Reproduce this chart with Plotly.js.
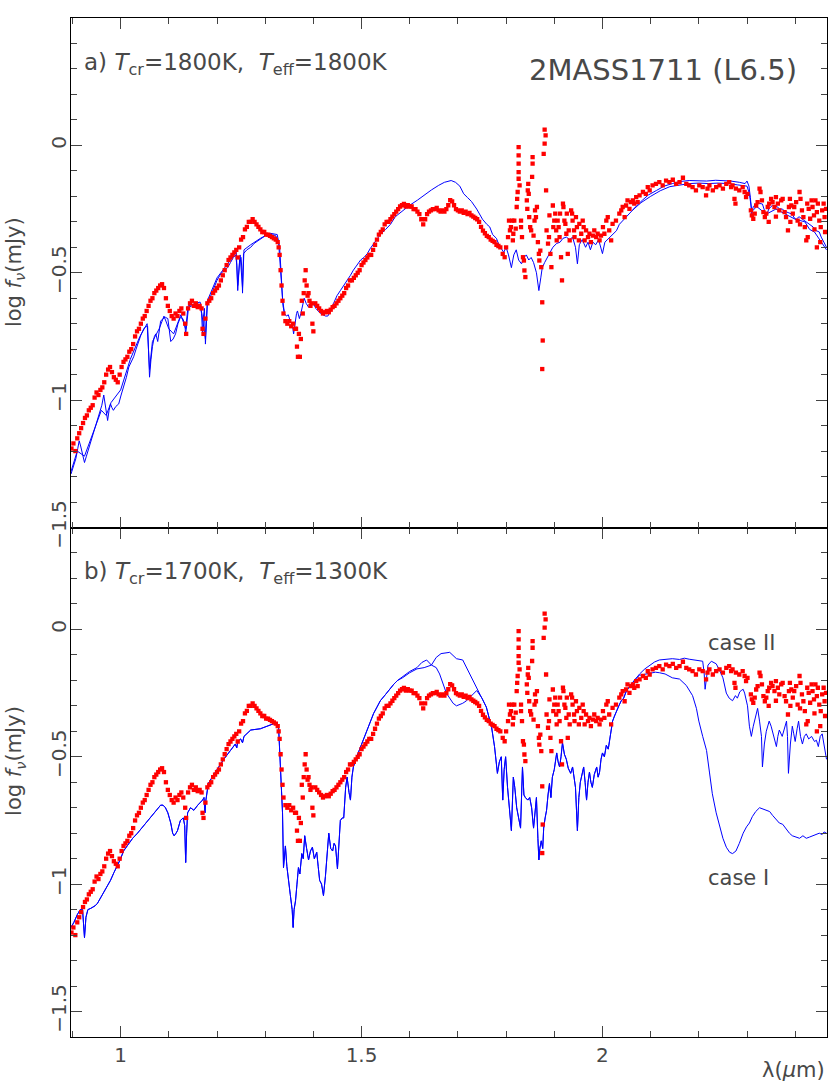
<!DOCTYPE html>
<html>
<head>
<meta charset="utf-8">
<script src="https://cdn.plot.ly/plotly-3.0.1.min.js"></script>
<style>
html,body{margin:0;padding:0;background:#fff;}
#chart{width:830px;height:1083px;}
</style>
</head>
<body>
<div id="chart"></div>
<script>
// ---------- DATA (wavelength in micron, log f_nu in mJy) ----------
// observed spectrum of 2MASS1711 (same in both panels)
const observed = [
[0.898,-1.19],[0.902,-1.17],[0.906,-1.20],[0.910,-1.15],[0.914,-1.13],[0.918,-1.11],[0.922,-1.09],[0.926,-1.07],
[0.930,-1.06],[0.934,-1.04],[0.938,-1.03],[0.942,-1.02],[0.946,-0.99],[0.950,-0.97],[0.954,-0.98],[0.958,-0.96],
[0.962,-0.95],[0.966,-0.93],[0.970,-0.90],[0.974,-0.88],[0.978,-0.87],[0.982,-0.89],[0.986,-0.91],[0.990,-0.92],
[0.994,-0.93],[0.998,-0.90],[1.002,-0.87],[1.006,-0.85],[1.010,-0.84],[1.014,-0.83],[1.018,-0.81],[1.022,-0.80],
[1.026,-0.78],[1.030,-0.75],[1.034,-0.73],[1.038,-0.72],[1.042,-0.70],[1.046,-0.68],[1.050,-0.67],[1.054,-0.65],
[1.058,-0.63],[1.062,-0.61],[1.066,-0.60],[1.070,-0.58],[1.074,-0.57],[1.078,-0.56],[1.082,-0.55],[1.086,-0.545],
[1.090,-0.56],[1.094,-0.60],[1.098,-0.63],[1.102,-0.65],[1.106,-0.67],[1.110,-0.68],[1.114,-0.66],[1.118,-0.67],
[1.122,-0.65],[1.126,-0.64],[1.130,-0.66],[1.134,-0.70],[1.136,-0.74],[1.140,-0.64],[1.144,-0.62],[1.148,-0.61],
[1.152,-0.63],[1.156,-0.62],[1.160,-0.635],[1.164,-0.63],[1.168,-0.64],[1.170,-0.72],[1.172,-0.74],[1.176,-0.68],
[1.180,-0.62],[1.184,-0.61],[1.188,-0.60],[1.192,-0.58],[1.196,-0.57],[1.200,-0.56],[1.204,-0.55],[1.208,-0.53],
[1.212,-0.51],[1.216,-0.49],[1.220,-0.47],[1.224,-0.45],[1.228,-0.44],[1.232,-0.43],[1.236,-0.42],[1.240,-0.41],
[1.243,-0.44],[1.246,-0.40],[1.250,-0.37],[1.254,-0.36],[1.258,-0.33],[1.262,-0.32],[1.266,-0.30],[1.270,-0.30],
[1.274,-0.29],[1.278,-0.30],[1.282,-0.31],[1.286,-0.32],[1.290,-0.33],[1.294,-0.34],[1.298,-0.34],[1.302,-0.35],
[1.306,-0.35],[1.310,-0.355],[1.314,-0.36],[1.318,-0.365],[1.322,-0.37],[1.326,-0.38],[1.328,-0.40],[1.330,-0.43],
[1.332,-0.49],[1.334,-0.55],[1.336,-0.61],[1.338,-0.66],[1.342,-0.69],[1.346,-0.70],[1.350,-0.69],[1.354,-0.71],
[1.358,-0.70],[1.362,-0.72],[1.364,-0.72],[1.366,-0.79],[1.368,-0.83],[1.370,-0.74],[1.372,-0.83],[1.374,-0.76],
[1.376,-0.61],[1.378,-0.66],[1.380,-0.58],[1.382,-0.53],[1.384,-0.49],[1.386,-0.55],[1.388,-0.59],[1.390,-0.58],
[1.392,-0.61],[1.394,-0.63],[1.396,-0.62],[1.398,-0.70],[1.400,-0.73],[1.404,-0.62],[1.408,-0.63],[1.412,-0.64],
[1.416,-0.65],[1.420,-0.66],[1.424,-0.655],[1.428,-0.65],[1.432,-0.655],[1.436,-0.645],[1.440,-0.635],[1.444,-0.63],
[1.448,-0.62],[1.452,-0.61],[1.456,-0.60],[1.460,-0.59],[1.464,-0.58],[1.468,-0.56],[1.472,-0.55],[1.476,-0.53],
[1.480,-0.53],[1.484,-0.52],[1.488,-0.51],[1.492,-0.50],[1.496,-0.49],[1.500,-0.47],[1.504,-0.46],[1.508,-0.45],
[1.512,-0.44],[1.516,-0.43],[1.520,-0.43],[1.524,-0.41],[1.528,-0.39],[1.532,-0.37],[1.536,-0.35],[1.540,-0.34],
[1.544,-0.33],[1.548,-0.31],[1.552,-0.30],[1.556,-0.30],[1.560,-0.29],[1.564,-0.28],[1.568,-0.27],[1.572,-0.26],
[1.576,-0.25],[1.580,-0.24],[1.584,-0.235],[1.588,-0.23],[1.592,-0.24],[1.596,-0.235],[1.600,-0.24],[1.604,-0.24],
[1.608,-0.25],[1.612,-0.25],[1.616,-0.26],[1.620,-0.27],[1.624,-0.29],[1.628,-0.31],[1.632,-0.29],[1.636,-0.27],
[1.640,-0.26],[1.644,-0.255],[1.648,-0.25],[1.652,-0.25],[1.656,-0.245],[1.660,-0.255],[1.664,-0.26],[1.668,-0.255],
[1.672,-0.26],[1.676,-0.25],[1.680,-0.235],[1.684,-0.215],[1.688,-0.22],[1.692,-0.235],[1.696,-0.25],[1.700,-0.255],
[1.704,-0.26],[1.708,-0.255],[1.712,-0.265],[1.716,-0.26],[1.720,-0.27],[1.724,-0.265],[1.728,-0.275],[1.732,-0.28],
[1.736,-0.285],[1.740,-0.29],[1.744,-0.30],[1.748,-0.32],[1.752,-0.335],[1.756,-0.345],[1.760,-0.355],[1.764,-0.36],
[1.768,-0.37],[1.772,-0.375],[1.776,-0.38],[1.780,-0.39],[1.784,-0.395],[1.788,-0.40],
[1.793,-0.426],[1.797,-0.439],[1.800,-0.40],[1.804,-0.36],[1.806,-0.295],[1.808,-0.334],[1.810,-0.321],[1.813,-0.295],
[1.814,-0.373],[1.815,-0.347],[1.817,-0.295],[1.820,-0.327],[1.822,-0.242],[1.823,-0.21],[1.824,-0.183],[1.826,-0.131],
[1.826,-0.105],[1.826,-0.072],[1.826,-0.039],[1.826,-0.007],[1.828,-0.157],[1.831,-0.295],[1.831,-0.321],[1.833,-0.36],
[1.835,-0.439],[1.837,-0.452],[1.838,-0.491],[1.840,-0.517],[1.843,-0.216],[1.844,-0.249],[1.845,-0.177],[1.846,-0.151],
[1.847,-0.19],[1.848,-0.282],[1.850,-0.321],[1.852,-0.334],[1.854,-0.124],[1.855,-0.072],[1.855,-0.046],[1.857,-0.354],
[1.859,-0.295],[1.860,-0.255],[1.862,-0.282],[1.864,-0.242],[1.866,-0.38],[1.868,-0.426],[1.869,-0.452],[1.871,-0.413],
[1.873,-0.478],[1.875,-0.616],[1.876,-0.766],[1.875,-0.878],[1.878,-0.033],[1.880,0.007],[1.882,0.039],[1.880,0.062],
[1.883,-0.177],[1.884,-0.334],[1.887,-0.386],[1.889,-0.36],[1.890,-0.275],[1.892,-0.426],[1.894,-0.478],[1.897,-0.236],
[1.898,-0.321],[1.900,-0.295],[1.902,-0.268],[1.904,-0.334],[1.905,-0.373],[1.907,-0.295],[1.909,-0.321],[1.911,-0.36],
[1.912,-0.268],[1.914,-0.439],[1.916,-0.53],[1.918,-0.229],[1.919,-0.242],[1.921,-0.295],[1.923,-0.308],[1.925,-0.347],
[1.926,-0.268],[1.928,-0.426],[1.930,-0.334],[1.932,-0.373],[1.935,-0.255],[1.937,-0.268],[1.938,-0.295],[1.941,-0.334],
[1.942,-0.36],[1.945,-0.282],[1.947,-0.321],[1.951,-0.373],[1.952,-0.308],[1.956,-0.347],[1.959,-0.295],[1.961,-0.321],
[1.963,-0.373],[1.966,-0.334],[1.970,-0.36],[1.973,-0.347],[1.976,-0.38],[1.980,-0.354],[1.983,-0.334],[1.987,-0.36],
[1.990,-0.347],[1.994,-0.373],[1.997,-0.354],[2.001,-0.321],[2.004,-0.347],[2.008,-0.295],[2.011,-0.282],[2.014,-0.334],
[2.018,-0.373],[2.021,-0.308],[2.028,-0.295],[2.035,-0.268],[2.039,-0.255],[2.042,-0.242],[2.046,-0.282],[2.049,-0.236],
[2.052,-0.216],[2.056,-0.249],[2.059,-0.223],[2.063,-0.216],[2.066,-0.229],[2.070,-0.203],[2.073,-0.223],[2.077,-0.196],
[2.084,-0.183],[2.090,-0.19],[2.094,-0.164],[2.098,-0.177],[2.104,-0.157],[2.111,-0.151],[2.118,-0.144],[2.125,-0.157],
[2.132,-0.138],[2.139,-0.144],[2.146,-0.135],[2.153,-0.151],[2.160,-0.144],[2.167,-0.127],[2.174,-0.151],[2.180,-0.157],
[2.187,-0.164],[2.194,-0.177],[2.201,-0.157],[2.208,-0.164],[2.215,-0.196],[2.218,-0.17],[2.222,-0.157],[2.229,-0.177],
[2.236,-0.164],[2.243,-0.157],[2.250,-0.17],[2.257,-0.151],[2.263,-0.144],[2.267,-0.164],[2.270,-0.157],[2.274,-0.21],
[2.276,-0.229],[2.277,-0.17],[2.284,-0.177],[2.291,-0.164],[2.295,-0.183],[2.298,-0.203],[2.301,-0.19],
[2.308,-0.255],[2.310,-0.275],[2.313,-0.288],[2.316,-0.268],[2.319,-0.236],[2.322,-0.223],[2.326,-0.17],[2.328,-0.183],
[2.331,-0.216],[2.334,-0.262],[2.337,-0.282],[2.340,-0.268],[2.343,-0.242],[2.345,-0.30],[2.346,-0.229],[2.350,-0.21],
[2.353,-0.223],[2.357,-0.242],[2.360,-0.203],[2.360,-0.28],[2.364,-0.229],[2.367,-0.255],[2.371,-0.216],[2.374,-0.21],
[2.378,-0.262],[2.381,-0.282],[2.385,-0.334],[2.387,-0.242],[2.389,-0.21],[2.390,-0.30],[2.392,-0.236],[2.395,-0.268],
[2.398,-0.242],[2.402,-0.223],[2.405,-0.295],[2.409,-0.183],[2.410,-0.31],[2.411,-0.21],[2.414,-0.255],[2.417,-0.282],
[2.420,-0.321],[2.423,-0.373],[2.425,-0.229],[2.426,-0.36],[2.428,-0.249],[2.431,-0.288],[2.434,-0.216],[2.436,-0.242],
[2.439,-0.275],[2.440,-0.33],[2.442,-0.216],[2.445,-0.262],[2.445,-0.40],[2.447,-0.229],[2.450,-0.295],[2.452,-0.38],
[2.453,-0.321],[2.456,-0.255],[2.459,-0.229],[2.461,-0.282],[2.462,-0.34],[2.464,-0.249]
];

// panel a: model spectra (Tcr = Teff = 1800K)
const modelA1 = [
[0.897,-1.29],[0.902,-1.26],[0.907,-1.23],[0.911,-1.19],[0.914,-1.16],[0.917,-1.18],[0.921,-1.21],[0.925,-1.245],
[0.929,-1.22],[0.934,-1.19],[0.938,-1.16],[0.943,-1.13],[0.948,-1.10],[0.952,-1.08],[0.957,-1.05],[0.961,-1.02],
[0.965,-0.98],[0.969,-1.03],[0.973,-1.08],[0.976,-1.04],[0.979,-1.015],[0.982,-1.03],[0.985,-1.04],[0.990,-1.025],
[0.996,-1.015],[1.001,-0.98],[1.006,-0.95],[1.012,-0.91],[1.017,-0.87],[1.022,-0.85],[1.027,-0.83],[1.032,-0.80],
[1.037,-0.77],[1.042,-0.745],[1.048,-0.72],[1.053,-0.71],[1.056,-0.71],[1.058,-0.80],[1.060,-0.91],[1.063,-0.84],
[1.066,-0.79],[1.070,-0.75],[1.073,-0.74],[1.077,-0.77],[1.080,-0.73],[1.083,-0.69],[1.088,-0.68],[1.093,-0.675],
[1.098,-0.68],[1.101,-0.73],[1.104,-0.77],[1.109,-0.76],[1.114,-0.74],[1.119,-0.70],[1.124,-0.675],[1.129,-0.68],
[1.133,-0.70],[1.135,-0.74],[1.138,-0.68],[1.141,-0.635],[1.148,-0.63],[1.155,-0.62],[1.160,-0.62],[1.165,-0.63],
[1.168,-0.66],[1.170,-0.74],[1.172,-0.67],[1.174,-0.64],[1.176,-0.78],[1.178,-0.70],[1.180,-0.62],[1.185,-0.60],
[1.190,-0.575],[1.195,-0.55],[1.200,-0.53],[1.206,-0.51],[1.212,-0.495],[1.218,-0.485],[1.222,-0.48],[1.228,-0.46],
[1.234,-0.44],[1.239,-0.43],[1.241,-0.47],[1.243,-0.57],[1.245,-0.48],[1.247,-0.45],[1.250,-0.44],[1.252,-0.50],
[1.253,-0.58],[1.255,-0.425],[1.262,-0.41],[1.270,-0.40],[1.277,-0.385],[1.284,-0.375],[1.292,-0.365],[1.300,-0.355],
[1.305,-0.35],[1.312,-0.35],[1.318,-0.352],[1.322,-0.355],[1.326,-0.37],[1.328,-0.385],[1.331,-0.45],[1.334,-0.545],
[1.337,-0.63],[1.340,-0.66],[1.344,-0.67],[1.348,-0.665],[1.352,-0.69],[1.356,-0.70],[1.359,-0.74],[1.362,-0.69],
[1.365,-0.66],[1.367,-0.65],[1.371,-0.68],[1.374,-0.66],[1.378,-0.62],[1.381,-0.60],[1.385,-0.62],[1.390,-0.635],
[1.395,-0.62],[1.400,-0.62],[1.405,-0.64],[1.410,-0.65],[1.415,-0.66],[1.420,-0.665],[1.425,-0.67],[1.430,-0.67],
[1.436,-0.65],[1.442,-0.62],[1.449,-0.59],[1.456,-0.57],[1.463,-0.55],[1.471,-0.53],[1.477,-0.51],[1.483,-0.49],
[1.490,-0.47],[1.498,-0.45],[1.505,-0.44],[1.512,-0.425],[1.518,-0.405],[1.525,-0.385],[1.532,-0.37],[1.539,-0.35],
[1.550,-0.33],[1.560,-0.31],[1.570,-0.28],[1.580,-0.265],[1.587,-0.255],[1.600,-0.235],[1.616,-0.215],[1.630,-0.195],
[1.645,-0.175],[1.660,-0.157],[1.672,-0.145],[1.686,-0.138],[1.695,-0.145],[1.704,-0.16],[1.712,-0.19],[1.720,-0.205],
[1.728,-0.22],[1.739,-0.25],[1.751,-0.29],[1.760,-0.31],[1.766,-0.32],[1.772,-0.35],[1.780,-0.365],[1.785,-0.39],
[1.790,-0.405],[1.795,-0.42],[1.800,-0.40],[1.805,-0.43],[1.811,-0.48],[1.816,-0.43],[1.821,-0.41],[1.826,-0.45],
[1.832,-0.465],[1.837,-0.44],[1.842,-0.43],[1.847,-0.45],[1.852,-0.44],[1.857,-0.46],[1.863,-0.50],[1.868,-0.57],
[1.872,-0.52],[1.875,-0.48],[1.880,-0.46],[1.885,-0.44],[1.890,-0.425],[1.897,-0.40],[1.905,-0.385],[1.912,-0.38],
[1.918,-0.365],[1.925,-0.36],[1.932,-0.37],[1.938,-0.36],[1.944,-0.40],[1.948,-0.465],[1.952,-0.39],[1.958,-0.37],
[1.965,-0.40],[1.970,-0.38],[1.975,-0.41],[1.980,-0.38],[1.986,-0.39],[1.992,-0.37],[1.996,-0.40],[2.000,-0.425],
[2.005,-0.38],[2.010,-0.37],[2.015,-0.36],[2.022,-0.35],[2.029,-0.335],[2.035,-0.31],[2.042,-0.295],[2.050,-0.28],
[2.056,-0.265],[2.062,-0.255],[2.072,-0.235],[2.083,-0.215],[2.095,-0.195],[2.112,-0.177],[2.128,-0.16],[2.145,-0.15],
[2.160,-0.142],[2.180,-0.138],[2.200,-0.138],[2.216,-0.14],[2.235,-0.137],[2.250,-0.138],[2.266,-0.14],[2.284,-0.145],
[2.296,-0.15],[2.300,-0.14],[2.304,-0.16],[2.307,-0.205],[2.310,-0.27],[2.313,-0.24],[2.319,-0.23],[2.326,-0.228],
[2.332,-0.23],[2.337,-0.26],[2.340,-0.28],[2.345,-0.25],[2.353,-0.235],[2.362,-0.24],[2.368,-0.25],[2.373,-0.25],
[2.380,-0.26],[2.387,-0.265],[2.394,-0.27],[2.398,-0.285],[2.402,-0.29],[2.408,-0.28],[2.415,-0.29],[2.422,-0.30],
[2.430,-0.31],[2.437,-0.32],[2.444,-0.335],[2.450,-0.34],[2.454,-0.36],[2.460,-0.38],[2.465,-0.40]
];
// second model of panel a, visible only where it separates from the first
const modelA2 = [
[0.897,-1.28],[0.910,-1.20],[0.925,-1.22],[0.940,-1.14],[0.960,-1.04],[0.970,-1.06],[0.980,-1.01],[1.000,-0.96],
[1.020,-0.84],[1.040,-0.75],[1.055,-0.70],[1.060,-0.88],[1.066,-0.77],[1.080,-0.72],[1.090,-0.67],[1.100,-0.72],
[1.110,-0.74],[1.125,-0.665],[1.135,-0.72],[1.140,-0.63],[1.165,-0.615],[1.176,-0.76],[1.180,-0.61],[1.200,-0.52],
[1.220,-0.47],[1.240,-0.42],[1.243,-0.55],[1.248,-0.43],[1.253,-0.56],[1.256,-0.41],[1.270,-0.39],[1.290,-0.365],
[1.310,-0.345],[1.325,-0.35],[1.330,-0.40],[1.336,-0.60],[1.340,-0.66],[null,null],
[2.062,-0.255],[2.080,-0.225],[2.100,-0.20],[2.120,-0.178],[2.140,-0.162],[2.160,-0.155],[2.180,-0.15],[2.200,-0.148],
[2.220,-0.15],[2.240,-0.148],[2.260,-0.15],[2.280,-0.155],[2.300,-0.16],[2.305,-0.19],[2.310,-0.26],[2.320,-0.24],
[2.340,-0.27],[2.360,-0.25],[2.380,-0.27],[2.400,-0.29],[2.420,-0.30],[2.430,-0.33],[2.440,-0.34],[2.450,-0.37],
[2.465,-0.41]
];

// panel b: models with Tcr = 1700K, Teff = 1300K (case I and case II)
const modelBShortWave = [
[0.897,-1.17],[0.903,-1.15],[0.910,-1.12],[0.916,-1.10],[0.921,-1.10],[0.923,-1.15],[0.925,-1.21],[0.928,-1.13],
[0.932,-1.10],[0.938,-1.095],[0.942,-1.09],[0.947,-1.085],[0.952,-1.075],[0.958,-1.055],[0.965,-1.03],[0.972,-1.005],
[0.979,-0.985],[0.986,-0.955],[0.994,-0.925],[1.000,-0.90],[1.006,-0.87],[1.015,-0.845],[1.025,-0.82],[1.035,-0.80],
[1.048,-0.77],[1.062,-0.74],[1.072,-0.715],[1.083,-0.69],[1.088,-0.69],[1.093,-0.70],[1.098,-0.72],[1.104,-0.76],
[1.108,-0.80],[1.111,-0.81],[1.115,-0.80],[1.118,-0.79],[1.124,-0.75],[1.130,-0.74],[1.133,-0.77],[1.135,-0.915],
[1.137,-0.80],[1.139,-0.72],[1.145,-0.70],[1.152,-0.71],[1.160,-0.69],[1.166,-0.68],[1.170,-0.67],[1.173,-0.66],
[1.175,-0.72],[1.177,-0.67],[1.182,-0.605],[1.190,-0.58],[1.200,-0.55],[1.214,-0.51],[1.228,-0.475],[1.238,-0.45],
[1.241,-0.465],[1.243,-0.44],[1.249,-0.43],[1.253,-0.445],[1.256,-0.42],[1.270,-0.395],[1.290,-0.39],[1.305,-0.38],
[1.318,-0.37],[1.325,-0.365],[1.328,-0.39],[1.330,-0.46],[1.333,-0.60],[1.336,-0.72],[1.338,-0.935],[1.340,-0.88],
[1.342,-0.85],[1.345,-0.93],[1.348,-0.985],[1.352,-1.04],[1.356,-1.10],[1.358,-1.17],[1.360,-1.10],[1.363,-1.065],
[1.366,-1.00],[1.369,-0.935],[1.372,-0.96],[1.376,-0.88],[1.379,-0.90],[1.382,-0.81],[1.386,-0.86],[1.390,-0.905],
[1.394,-0.87],[1.398,-0.855],[1.402,-0.90],[1.407,-0.875],[1.410,-0.93],[1.413,-0.985],[1.417,-1.00],[1.421,-1.045],
[1.425,-0.97],[1.429,-0.86],[1.432,-0.80],[1.436,-0.86],[1.440,-0.87],[1.443,-0.84],[1.446,-0.85],[1.450,-0.94],
[1.453,-0.82],[1.456,-0.75],[1.460,-0.74],[1.463,-0.74],[1.467,-0.62],[1.470,-0.58],[1.474,-0.64],[1.477,-0.67],
[1.480,-0.58],[1.483,-0.54],[1.490,-0.50],[1.498,-0.46],[1.505,-0.43],[1.512,-0.395],[1.518,-0.36],[1.525,-0.33],
[1.532,-0.305],[1.539,-0.28],[1.550,-0.255],[1.560,-0.23],[1.567,-0.215],[1.575,-0.20]
];
const caseI_H = [
[1.585,-0.19],[1.600,-0.17],[1.615,-0.155],[1.630,-0.15],[1.645,-0.14],[1.655,-0.15],[1.662,-0.175],[1.676,-0.25],
[1.690,-0.29],[1.697,-0.30],[1.710,-0.29],[1.718,-0.28],[1.730,-0.255],[1.739,-0.24],[1.750,-0.27]
];
const caseII_H = [
[1.585,-0.185],[1.600,-0.165],[1.615,-0.15],[1.625,-0.13],[1.635,-0.12],[1.645,-0.14],[1.655,-0.11],[1.665,-0.095],
[1.683,-0.09],[1.697,-0.115],[1.710,-0.12],[1.718,-0.15],[1.728,-0.19],[1.739,-0.23],[1.750,-0.27]
];
const modelBMidWave = [
[1.759,-0.305],[1.770,-0.385],[1.776,-0.46],[1.782,-0.565],[1.786,-0.52],[1.790,-0.50],[1.793,-0.67],[1.796,-0.55],
[1.799,-0.50],[1.803,-0.62],[1.807,-0.70],[1.811,-0.79],[1.815,-0.58],[1.818,-0.62],[1.822,-0.70],[1.826,-0.74],
[1.830,-0.78],[1.834,-0.54],[1.837,-0.65],[1.840,-0.66],[1.845,-0.67],[1.849,-0.66],[1.853,-0.70],[1.857,-0.78],
[1.860,-0.72],[1.863,-0.66],[1.866,-0.82],[1.868,-0.905],[1.870,-0.86],[1.873,-0.83],[1.876,-0.86],[1.878,-0.78],
[1.881,-0.74],[1.884,-0.71],[1.887,-0.65],[1.890,-0.605],[1.893,-0.66],[1.896,-0.58],[1.900,-0.55],[1.905,-0.485],
[1.908,-0.52],[1.911,-0.54],[1.914,-0.50],[1.917,-0.445],[1.921,-0.49],[1.925,-0.51],[1.929,-0.545],[1.934,-0.565],
[1.938,-0.54],[1.941,-0.58],[1.944,-0.62],[1.948,-0.79],[1.951,-0.66],[1.954,-0.60],[1.958,-0.57],[1.961,-0.54],
[1.964,-0.60],[1.967,-0.67],[1.970,-0.60],[1.973,-0.56],[1.976,-0.60],[1.979,-0.62],[1.983,-0.57],[1.988,-0.54],
[1.991,-0.58],[1.994,-0.56],[1.997,-0.51],[2.000,-0.485],[2.004,-0.50],[2.008,-0.455],[2.012,-0.47],[2.015,-0.435],
[2.018,-0.40],[2.021,-0.36],[2.025,-0.34],[2.029,-0.32],[2.034,-0.30],[2.039,-0.28],[2.044,-0.27],[2.050,-0.24],
[2.056,-0.225],[2.062,-0.21],[2.068,-0.195]
];
const caseI_K = [
[2.077,-0.18],[2.090,-0.175],[2.098,-0.17],[2.110,-0.168],[2.118,-0.17],[2.130,-0.175],[2.145,-0.19],[2.160,-0.195],
[2.174,-0.22],[2.187,-0.26],[2.195,-0.31],[2.200,-0.36],[2.208,-0.42],[2.216,-0.475],[2.222,-0.56],[2.228,-0.645],
[2.236,-0.72],[2.243,-0.775],[2.250,-0.82],[2.257,-0.855],[2.264,-0.875],[2.270,-0.88],[2.277,-0.87],[2.284,-0.84],
[2.292,-0.80],[2.299,-0.775],[2.305,-0.76],[2.311,-0.735],[2.318,-0.715],[2.326,-0.70],[2.333,-0.705],[2.340,-0.71],
[2.347,-0.715],[2.353,-0.73],[2.360,-0.745],[2.367,-0.76],[2.374,-0.765],[2.382,-0.785],[2.388,-0.80],[2.394,-0.81],
[2.402,-0.815],[2.409,-0.82],[2.416,-0.81],[2.423,-0.82],[2.430,-0.815],[2.436,-0.81],[2.443,-0.805],[2.450,-0.80],
[2.456,-0.805],[2.460,-0.795],[2.465,-0.80]
];
const caseII_K = [
[2.077,-0.175],[2.088,-0.155],[2.098,-0.14],[2.108,-0.128],[2.118,-0.12],[2.130,-0.118],[2.145,-0.115],[2.160,-0.118],
[2.170,-0.113],[2.180,-0.117],[2.195,-0.12],[2.208,-0.125],[2.211,-0.17],[2.213,-0.235],[2.216,-0.19],[2.219,-0.14],
[2.226,-0.125],[2.236,-0.135],[2.243,-0.16],[2.250,-0.19],[2.257,-0.25],[2.263,-0.27],[2.270,-0.28],[2.276,-0.26],
[2.280,-0.27],[2.285,-0.245],[2.288,-0.24],[2.292,-0.235],[2.295,-0.25],[2.301,-0.30],[2.305,-0.38],[2.309,-0.42],
[2.313,-0.38],[2.316,-0.36],[2.322,-0.31],[2.326,-0.36],[2.330,-0.42],[2.332,-0.54],[2.336,-0.45],[2.340,-0.40],
[2.346,-0.36],[2.350,-0.38],[2.353,-0.40],[2.357,-0.43],[2.361,-0.46],[2.364,-0.42],[2.367,-0.395],[2.373,-0.42],
[2.378,-0.38],[2.382,-0.36],[2.384,-0.42],[2.386,-0.565],[2.390,-0.45],[2.394,-0.38],[2.397,-0.41],[2.400,-0.44],
[2.404,-0.39],[2.407,-0.36],[2.411,-0.42],[2.415,-0.45],[2.419,-0.42],[2.423,-0.41],[2.428,-0.43],[2.434,-0.42],
[2.440,-0.44],[2.444,-0.435],[2.448,-0.46],[2.452,-0.42],[2.456,-0.41],[2.460,-0.45],[2.465,-0.51]
];

const panelALabel = "a) <i>T</i><sub>cr</sub>=1800K,  <i>T</i><sub>eff</sub>=1800K";
const panelBLabel = "b) <i>T</i><sub>cr</sub>=1700K,  <i>T</i><sub>eff</sub>=1300K";
const objectLabel = "2MASS1711 (L6.5)";
const caseLabels = ["case I", "case II"];
const yTitle = "log <i>f</i><sub><i>ν</i></sub>(mJy)";
const xTitle = "λ(<i>μ</i>m)";

// ---------- BUILD ----------
const xs = a => a.map(p => p[0]);
const ys = a => a.map(p => p[1]);
const caseI = modelBShortWave.concat(caseI_H, modelBMidWave, caseI_K);
const caseII = modelBShortWave.concat(caseII_H, modelBMidWave, caseII_K);

const BLUE = '#0000ff', RED = '#ff0000', TXT = '#484848', TICK = '#444';
const FONT = 'DejaVu Sans, Liberation Sans, sans-serif';

function lineTrace(arr, xa, ya) {
  return {x: xs(arr), y: ys(arr), xaxis: xa, yaxis: ya, type: 'scatter', mode: 'lines',
          line: {color: BLUE, width: 1}, connectgaps: false, hoverinfo: 'skip'};
}
function obsTrace(xa, ya) {
  return {x: xs(observed), y: ys(observed), xaxis: xa, yaxis: ya, type: 'scatter', mode: 'markers',
          marker: {color: RED, size: 4.3, symbol: 'square', line: {width: 0}}, hoverinfo: 'skip'};
}
function emptyTrace(xa, ya) {
  return {x: [], y: [], xaxis: xa, yaxis: ya, type: 'scatter', mode: 'markers', hoverinfo: 'skip'};
}

const traces = [
  lineTrace(modelA1, 'x2', 'y2'), lineTrace(modelA2, 'x2', 'y2'), obsTrace('x2', 'y2'),
  lineTrace(caseI, 'x', 'y'), lineTrace(caseII, 'x', 'y'), obsTrace('x', 'y'),
  emptyTrace('x3', 'y'), emptyTrace('x', 'y3'), emptyTrace('x4', 'y2'), emptyTrace('x2', 'y4')
];

const xRange = [0.897, 2.466];
const tickFont = {family: FONT, size: 20, color: TXT};
// short (0.1) ticks on the main axes
function mainAxis(extra) {
  return Object.assign({showline: true, linecolor: '#000', linewidth: 1, mirror: 'ticks',
    ticks: 'inside', tick0: 0, dtick: 0.1, ticklen: 6, tickcolor: TICK, tickwidth: 1,
    showgrid: false, zeroline: false, showticklabels: false}, extra);
}
// long (0.5) ticks + labels on overlaid axes
function majorAxis(extra) {
  return Object.assign({showline: false, mirror: 'ticks',
    ticks: 'inside', tick0: 0, dtick: 0.5, ticklen: 11, tickcolor: TICK, tickwidth: 1,
    showgrid: false, zeroline: false, tickfont: tickFont}, extra);
}

const annFont = (s) => ({family: FONT, size: s, color: TXT});
const layout = {
  width: 830, height: 1083,
  margin: {l: 71, r: 3, t: 18, b: 46},
  paper_bgcolor: '#fff', plot_bgcolor: 'rgba(0,0,0,0)',
  showlegend: false,
  xaxis: mainAxis({range: xRange, anchor: 'y'}),
  yaxis: mainAxis({domain: [0, 0.5], range: [-1.6, 0.4], anchor: 'x'}),
  xaxis2: mainAxis({range: xRange, anchor: 'y2'}),
  yaxis2: mainAxis({domain: [0.5, 1], range: [-1.5, 0.5], anchor: 'x2'}),
  xaxis3: majorAxis({range: xRange, overlaying: 'x', anchor: 'y', side: 'bottom', showticklabels: true, ticklabelstandoff: 4}),
  yaxis3: majorAxis({range: [-1.6, 0.4], overlaying: 'y', anchor: 'x', side: 'left', showticklabels: true, tickangle: -90}),
  xaxis4: majorAxis({range: xRange, overlaying: 'x2', anchor: 'y2', side: 'bottom', showticklabels: false}),
  yaxis4: majorAxis({range: [-1.5, 0.5], overlaying: 'y2', anchor: 'x2', side: 'left', showticklabels: true, tickangle: -90}),
  annotations: [
    {xref: 'paper', yref: 'paper', x: 0.014, y: 0.955, xanchor: 'left', yanchor: 'middle', showarrow: false,
     text: panelALabel, font: annFont(23)},
    {xref: 'paper', yref: 'paper', x: 0.014, y: 0.455, xanchor: 'left', yanchor: 'middle', showarrow: false,
     text: panelBLabel, font: annFont(23)},
    {xref: 'paper', yref: 'paper', x: 0.963, y: 0.949, xanchor: 'right', yanchor: 'middle', showarrow: false,
     text: objectLabel, font: annFont(29)},
    {xref: 'paper', yref: 'paper', x: 0.84, y: 0.156, xanchor: 'left', yanchor: 'middle', showarrow: false,
     text: caseLabels[0], font: annFont(21)},
    {xref: 'paper', yref: 'paper', x: 0.84, y: 0.3866, xanchor: 'left', yanchor: 'middle', showarrow: false,
     text: caseLabels[1], font: annFont(21)},
    {xref: 'paper', yref: 'paper', x: -0.074, y: 0.7507, xanchor: 'center', yanchor: 'middle', showarrow: false,
     textangle: -90, text: yTitle, font: annFont(21)},
    {xref: 'paper', yref: 'paper', x: -0.074, y: 0.271, xanchor: 'center', yanchor: 'middle', showarrow: false,
     textangle: -90, text: yTitle, font: annFont(21)},
    {xref: 'paper', yref: 'paper', x: 1.0, y: -0.032, xanchor: 'right', yanchor: 'middle', showarrow: false,
     text: xTitle, font: annFont(21)}
  ]
};

Plotly.newPlot('chart', traces, layout, {displayModeBar: false, staticPlot: true});
</script>
</body>
</html>
